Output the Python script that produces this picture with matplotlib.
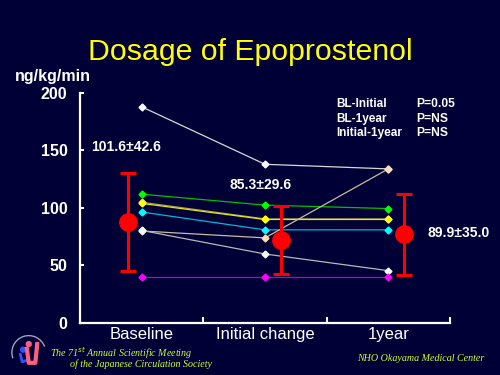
import matplotlib.pyplot as plt
from matplotlib.patches import Circle, Arc

# categories and per-patient dose (ng/kg/min)
categories = ['Baseline', 'Initial change', '1year']
white_pt = [188, 138, 134]
green_pt = [112, 102.5, 99.5]
yellow_pt = [104, 90, 90]
olive_pt = [105, 90.5, 90.5]
cyan_pt = [96.5, 81, 81]
tan_pt = [80, 74, 134]
gray_pt = [80.5, 60, 45.5]
magenta_pt = [40, 40, 40]

# group summary as drawn (centre, error)
group_center = [88, 72.5, 77]
group_err = [42.6, 29.6, 35.0]
group_labels = ['101.6±42.6', '85.3±29.6', '89.9±35.0']
group_offset = [-0.11, 0.13, 0.13]

bg = '#000036'
plt.rcParams['font.family'] = ['Liberation Sans', 'DejaVu Sans']

fig = plt.figure(figsize=(5, 3.75), dpi=100, facecolor=bg)
ax = fig.add_axes([0.16, 0.1387, 0.74, 0.6133])
ax.set_facecolor(bg)

x = range(len(categories))
patients = [
    (white_pt, '#d8d8d8', '#ffffff'),
    (green_pt, '#00c000', '#00ff00'),
    (olive_pt, '#a89a60', '#e0d080'),
    (yellow_pt, '#e8e800', '#ffff00'),
    (cyan_pt, '#00b8d8', '#00ffff'),
    (tan_pt, '#c8bca0', '#ffdcb0'),
    (gray_pt, '#b8b8b8', '#f0fff0'),
    (magenta_pt, '#c000c0', '#ff00ff'),
]
for vals, lc, mc in patients:
    ax.plot(x, vals, color=lc, lw=0.9, marker='D', ms=3.5,
            mfc=mc, mec=mc, zorder=3)

gx = [i + o for i, o in zip(x, group_offset)]
ax.errorbar(gx, group_center, yerr=group_err, fmt='o', color='#ff0000',
            ms=12.5, elinewidth=2.2, capsize=6, capthick=2.2, zorder=4)

lab = dict(color='white', fontsize=10, fontweight='bold', ha='center', va='center')
ax.text(-0.13, 153, group_labels[0], **lab)
ax.text(0.96, 120, group_labels[1], **lab)
ax.text(2.57, 78, group_labels[2], **lab)

stats = [('BL-Initial', 'P=0.05'), ('BL-1year', 'P=NS'), ('Initial-1year', 'P=NS')]
for k, (a, b) in enumerate(stats):
    yv = 190 - k * 12.5
    ax.text(1.58, yv, a, color='white', fontsize=8.5, fontweight='bold', va='center')
    ax.text(2.23, yv, b, color='white', fontsize=8.7, fontweight='bold', va='center')

ax.set_xlim(-0.5, 2.5)
ax.set_ylim(0, 200)
ax.set_xticks(list(x))
ax.set_xticklabels(categories, color='white', fontsize=12)
ax.tick_params(axis='x', length=0, pad=3)
ax.set_xticks([0.5, 1.5, 2.5], minor=True)
ax.tick_params(axis='x', which='minor', direction='in', length=4, width=1.5, color='white')
ax.set_yticks([0, 50, 100, 150, 200])
ax.tick_params(axis='y', direction='in', length=3, width=1.5, color='white',
               labelcolor='white', labelsize=11.5, pad=9)
for lbl in ax.get_yticklabels():
    lbl.set_fontweight('bold')
for s in ['top', 'right']:
    ax.spines[s].set_visible(False)
for s in ['left', 'bottom']:
    ax.spines[s].set_color('white')
    ax.spines[s].set_linewidth(1.6)

fig.text(0.5, 0.86, 'Dosage of Epoprostenol', color='#ffff00', fontsize=21.8,
         ha='center', va='center')
fig.text(0.03, 0.795, 'ng/kg/min', color='white', fontsize=11.5,
         fontweight='bold', va='center')

foot = dict(color='#ccff33', fontsize=7.2, style='italic', family='Liberation Serif')
fig.text(0.1, 0.059, 'The 71$^{st}$ Annual Scientific Meeting', va='center', **foot)
fig.text(0.14, 0.029, 'of the Japanese Circulation Society', va='center', **foot)
fig.text(0.714, 0.045, 'NHO Okayama Medical Center', va='center', **foot)

# little society logo
lax = fig.add_axes([0.02, 0.01, 0.075, 0.1])
lax.set_xlim(-1, 1)
lax.set_ylim(-1, 1)
lax.set_aspect('equal')
lax.axis('off')
lax.add_patch(Arc((0, 0), 1.8, 1.8, theta1=20, theta2=200, color='#a0a0c0', lw=1))
lax.add_patch(Circle((-0.3, 0.15), 0.13, color='#3050ff'))
lax.plot([-0.45, -0.35, -0.05], [-0.1, -0.5, -0.4], color='#3050ff', lw=2)
lax.plot([-0.1, 0.0, 0.35, 0.45], [0.2, -0.55, -0.55, 0.45], color='#ff6080', lw=3)
lax.add_patch(Circle((0.0, 0.45), 0.13, color='#ff6080'))

fig.savefig('out.png', dpi=100, facecolor=bg)
